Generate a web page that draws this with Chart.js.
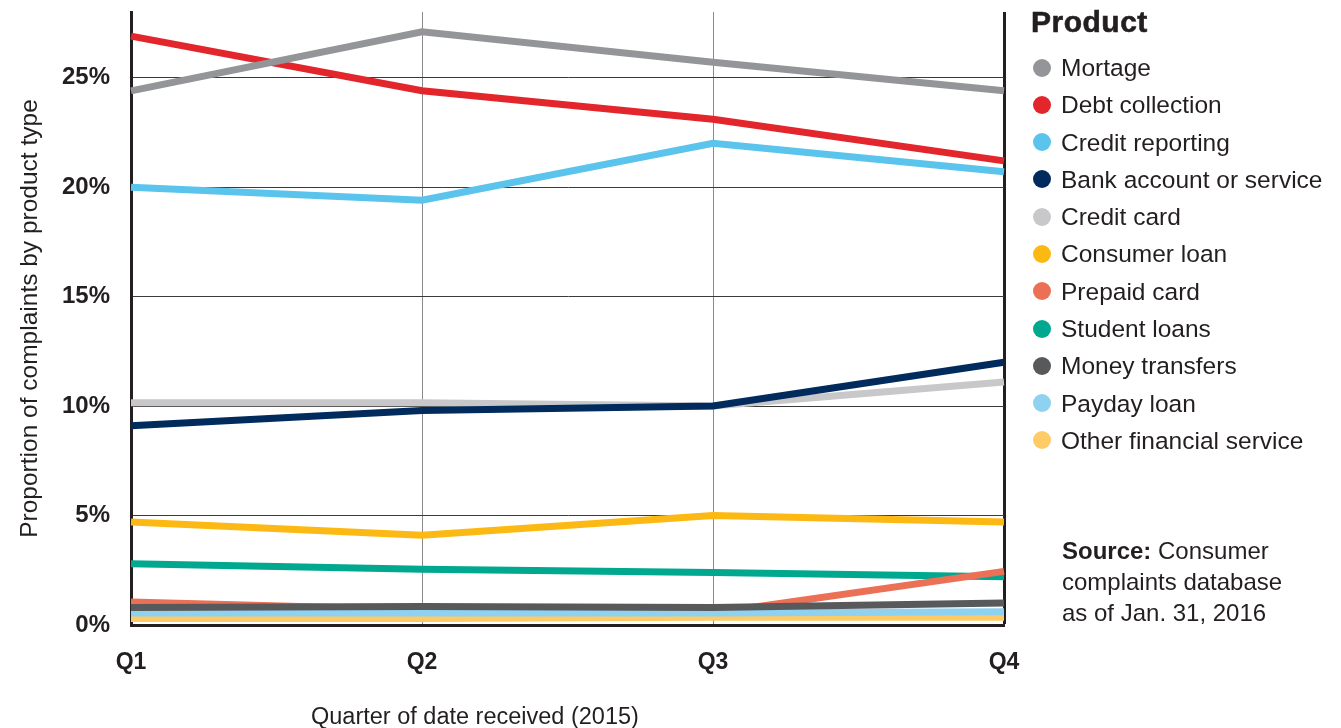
<!DOCTYPE html>
<html>
<head>
<meta charset="utf-8">
<script src="https://cdn.jsdelivr.net/npm/chart.js@4/dist/chart.umd.min.js"></script>
<style>
  html, body { margin: 0; padding: 0; background: #fff; }
  #wrap { position: relative; width: 1341px; height: 728px; overflow: hidden; font-family: "Liberation Sans", Arial, sans-serif; color: #231f20; }
  #c { position: absolute; left: 0; top: 0; }
  #legend { position: absolute; left: 1031px; top: 4px; }
  #legend .title { font-weight: bold; font-size: 30px; line-height: 36px; margin-bottom: 9px; letter-spacing: 0.5px; -webkit-text-stroke: 0.6px #231f20; }
  #legend .item { position: relative; height: 37.3px; line-height: 37.3px; font-size: 24.5px; padding-left: 30px; white-space: nowrap; }
  #legend .dot { position: absolute; left: 2px; top: 9.5px; width: 18px; height: 18px; border-radius: 50%; }
  #source { position: absolute; left: 1062px; top: 535px; font-size: 24px; line-height: 31px; }
  #xtitle { position: absolute; left: 311px; top: 702px; font-size: 23.5px; line-height: 28px; white-space: nowrap; }
</style>
</head>
<body>
<div id="wrap">
  <canvas id="c" width="1341" height="728"></canvas>
  <div id="legend"></div>
  <div id="source"><b>Source:</b> Consumer<br>complaints database<br>as of Jan. 31, 2016</div>
  <div id="xtitle">Quarter of date received (2015)</div>
</div>
<script>
const quarters = ["Q1", "Q2", "Q3", "Q4"];
const yTicks = [0, 5, 10, 15, 20, 25];

const seriesNames = ["Mortage", "Debt collection", "Credit reporting", "Bank account or service", "Credit card", "Consumer loan", "Prepaid card", "Student loans", "Money transfers", "Payday loan", "Other financial service"];
const seriesColors = ["#939598", "#e3262b", "#5bc4ec", "#002b5c", "#c8c8ca", "#fdb913", "#ec7055", "#00a88f", "#58595b", "#8ed1f0", "#fecb66"];

const mortgage        = [24.4, 27.1, 25.7, 24.4];
const debtCollection  = [26.9, 24.4, 23.1, 21.2];
const creditReporting = [20.0, 19.4, 22.0, 20.7];
const bankAccount     = [9.1, 9.8, 10.0, 12.0];
const creditCard      = [10.15, 10.15, 10.0, 11.1];
const consumerLoan    = [4.7, 4.1, 5.0, 4.7];
const prepaidCard     = [1.05, 0.7, 0.55, 2.45];
const studentLoans    = [2.8, 2.55, 2.4, 2.2];
const moneyTransfers  = [0.8, 0.85, 0.8, 1.0];
const paydayLoan      = [0.55, 0.55, 0.55, 0.6];
const otherFinancial  = [0.3, 0.3, 0.35, 0.35];

const seriesValues = [mortgage, debtCollection, creditReporting, bankAccount, creditCard, consumerLoan, prepaidCard, studentLoans, moneyTransfers, paydayLoan, otherFinancial];
// drawing order (lower = on top)
const drawOrder = [1, 2, 3, 4, 5, 6, 10, 11, 7, 8, 9];

const datasets = seriesNames.map((name, i) => ({
  label: name,
  data: seriesValues[i],
  borderColor: seriesColors[i],
  backgroundColor: seriesColors[i],
  borderWidth: 7,
  pointRadius: 0,
  tension: 0,
  fill: false,
  borderCapStyle: 'butt',
  order: drawOrder[i]
}));

// HTML legend built from the arrays
const legendEl = document.getElementById('legend');
legendEl.innerHTML = '<div class="title">Product</div>' + seriesNames.map((n, i) =>
  `<div class="item"><span class="dot" style="background:${seriesColors[i]}"></span>${n}</div>`).join('');

Chart.defaults.font.family = '"Liberation Sans", Arial, sans-serif';
Chart.defaults.color = '#231f20';

new Chart(document.getElementById('c'), {
  type: 'line',
  data: { labels: quarters, datasets },
  options: {
    responsive: false,
    animation: false,
    events: [],
    layout: { padding: { top: 12, right: 337, left: 0, bottom: 0 } },
    plugins: { legend: { display: false }, tooltip: { enabled: false } },
    scales: {
      x: {
        offset: false,
        afterFit: s => { s.height = 103; s.paddingLeft = 0; s.paddingRight = 0; },
        border: { display: true, color: '#231f20', width: 3 },
        grid: {
          drawTicks: false,
          color: ctx => (ctx.index === 3 ? '#231f20' : (ctx.index === 0 ? 'rgba(0,0,0,0)' : '#8a8a8a')),
          lineWidth: ctx => (ctx.index === 3 ? 3 : 1)
        },
        ticks: { padding: 24, maxRotation: 0, font: { size: 23, weight: 'bold' }, color: '#231f20' }
      },
      y: {
        min: 0,
        max: 28,
        afterFit: s => { s.width = 131; s.paddingTop = 0; s.paddingBottom = 0; },
        afterBuildTicks: s => { s.ticks = yTicks.map(v => ({ value: v })); },
        border: { display: true, color: '#231f20', width: 3 },
        grid: {
          drawTicks: false,
          color: ctx => (ctx.tick && ctx.tick.value === 0 ? 'rgba(0,0,0,0)' : '#3a3a3a'),
          lineWidth: 1
        },
        ticks: {
          padding: 21,
          font: { size: 24, weight: 'bold' },
          color: '#231f20',
          callback: v => v + '%'
        },
        title: {
          display: true,
          text: 'Proportion of complaints by product type',
          font: { size: 24.5 },
          color: '#231f20',
          padding: { top: 16, bottom: 0 }
        }
      }
    }
  }
});
</script>
</body>
</html>
